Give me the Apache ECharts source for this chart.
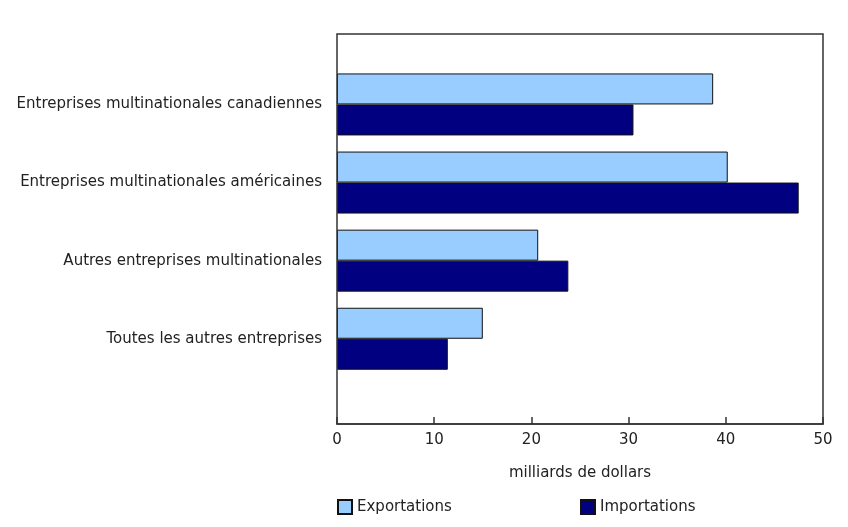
<!DOCTYPE html>
<html><head><meta charset="utf-8">
<script src="https://cdn.jsdelivr.net/npm/echarts@6/dist/echarts.min.js"></script>
<style>html,body{margin:0;padding:0;background:#fff}#c{width:848px;height:527px}</style>
</head><body><div id="c"></div>
<script>
const categories = ['Entreprises multinationales canadiennes','Entreprises multinationales américaines','Autres entreprises multinationales','Toutes les autres entreprises'];
const exportations = [38.7, 40.2, 20.7, 15.0];
const importations = [30.5, 47.5, 23.8, 11.4];
const xTicks = [0, 10, 20, 30, 40, 50];

const FONT = 'DejaVu Sans';
const FS = 15;
const chart = echarts.init(document.getElementById('c'), null, {renderer:'canvas'});
const gridTop = 65.4, gridH = 312.4, frameTop = 34, frameBottom = 424;
chart.setOption({
  animation:false,
  textStyle:{fontFamily:FONT},
  grid:{left:337, right:25, top:gridTop, height:gridH, containLabel:false},
  legend:[
    {left:337, top:499, padding:0, itemWidth:14, itemHeight:14, itemGap:8, icon:'rect',
     textStyle:{fontFamily:FONT, fontSize:FS, color:'#222'}, data:['Exportations'], selectedMode:false},
    {left:580, top:499, padding:0, itemWidth:14, itemHeight:14, itemGap:8, icon:'rect',
     textStyle:{fontFamily:FONT, fontSize:FS, color:'#222'}, data:['Importations'], selectedMode:false}
  ],
  xAxis:{type:'value', min:xTicks[0], max:xTicks[xTicks.length-1], interval:10,
    offset: frameBottom-(gridTop+gridH),
    name:'milliards de dollars', nameLocation:'middle', nameGap:42,
    nameTextStyle:{fontFamily:FONT, fontSize:FS, color:'#222'},
    axisLine:{show:true, lineStyle:{color:'#333', width:1.5}},
    axisTick:{show:true, inside:true, length:7, lineStyle:{color:'#333', width:1.5}},
    axisLabel:{fontFamily:FONT, fontSize:FS, color:'#222', margin:9},
    splitLine:{show:false}},
  yAxis:{type:'category', data:categories, inverse:true,
    axisLine:{show:false}, axisTick:{show:false},
    axisLabel:{fontFamily:FONT, fontSize:FS, color:'#222', margin:15}},
  graphic:[{type:'rect', shape:{x:337, y:frameTop, width:486, height:frameBottom-frameTop},
    style:{fill:'none', stroke:'#333', lineWidth:1.5}, silent:true, z:100}],
  series:[
    {name:'Exportations', type:'bar', data:exportations, barWidth:31, barGap:'0%',
     itemStyle:{color:'#99CCFF', borderColor:'#111', borderWidth:1}},
    {name:'Importations', type:'bar', data:importations, barWidth:31, barGap:'0%',
     itemStyle:{color:'#000080', borderColor:'#111', borderWidth:1}}
  ]
});
</script></body></html>
